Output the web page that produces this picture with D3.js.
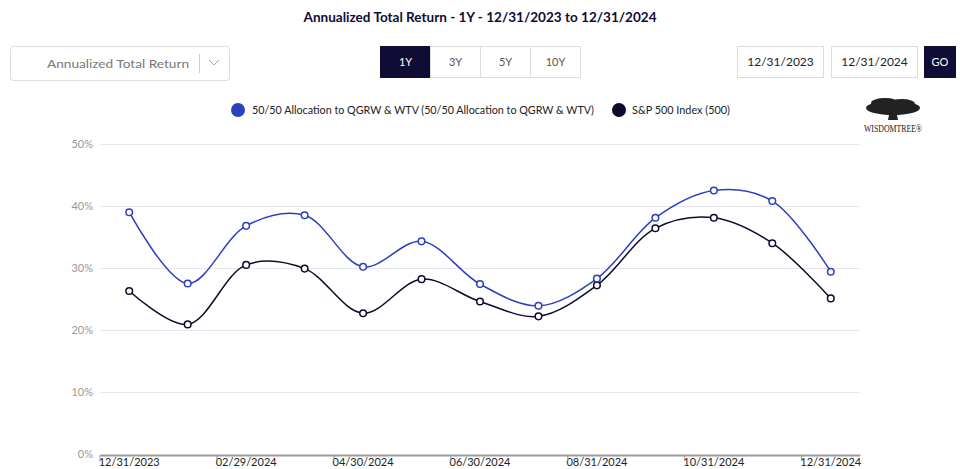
<!DOCTYPE html>
<html><head><meta charset="utf-8">
<script src="https://cdn.jsdelivr.net/npm/d3@7"></script>
<style>
body{margin:0;background:#fff;}
</style></head>
<body><svg id="c" width="960" height="469"></svg>
<script>
const dates = ["12/31/2023","01/31/2024","02/29/2024","03/31/2024","04/30/2024","05/31/2024","06/30/2024","07/31/2024","08/31/2024","09/30/2024","10/31/2024","11/30/2024","12/31/2024"];
const blendValues = [39.0,27.5,36.8,38.5,30.2,34.3,27.4,23.9,28.3,38.1,42.5,40.8,29.4];
const spValues = [26.3,20.9,30.5,29.9,22.7,28.2,24.6,22.2,27.2,36.4,38.1,34.0,25.1];
const yTicks = [0,10,20,30,40,50];
const seriesNames = ["50/50 Allocation to QGRW & WTV (50/50 Allocation to QGRW & WTV)","S&P 500 Index (500)"];
const colors = ["#2b3fbf","#0d0b2b"];
const navy = "#0f0c35";

const svg = d3.select('#c');
const font = '"Lato","Open Sans",sans-serif';

svg.append('text').attr('x',480).attr('y',22).attr('text-anchor','middle')
  .style('font-family',font).style('font-weight','bold').style('font-size','13px').attr('fill',navy)
  .attr('textLength',353).attr('lengthAdjust','spacingAndGlyphs')
  .text('Annualized Total Return - 1Y - 12/31/2023 to 12/31/2024');

// dropdown
svg.append('rect').attr('x',10.5).attr('y',46.5).attr('width',219).attr('height',34).attr('rx',3)
  .attr('fill','#fff').attr('stroke','#dcdcdc');
svg.append('text').attr('x',118).attr('y',68).attr('text-anchor','middle').style('font-family',font)
  .style('font-size','12px').attr('fill','#777').attr('textLength',142).attr('lengthAdjust','spacingAndGlyphs')
  .text('Annualized Total Return');
svg.append('line').attr('x1',199.5).attr('x2',199.5).attr('y1',54).attr('y2',73).attr('stroke','#ccc');
svg.append('path').attr('d','M209,60 L214,65 L219,60').attr('fill','none').attr('stroke','#aaa');

// period buttons
["1Y","3Y","5Y","10Y"].forEach((t,i)=>{
  const x=380.5+i*50;
  svg.append('rect').attr('x',x).attr('y',46.5).attr('width',50).attr('height',31)
    .attr('fill',i==0?navy:'#fff').attr('stroke',i==0?navy:'#dcdcdc');
  svg.append('text').attr('x',x+25).attr('y',66).attr('text-anchor','middle').style('font-family',font)
    .style('font-size','11px').attr('fill',i==0?'#fff':'#555').text(t);
});
[["12/31/2023",737.5,86],["12/31/2024",831.5,86]].forEach(d=>{
  svg.append('rect').attr('x',d[1]).attr('y',46.5).attr('width',d[2]).attr('height',31)
    .attr('fill','#fff').attr('stroke','#dcdcdc');
  svg.append('text').attr('x',d[1]+d[2]/2).attr('y',66).attr('text-anchor','middle').style('font-family',font)
    .style('font-size','12px').attr('fill','#222').text(d[0]);
});
svg.append('rect').attr('x',924).attr('y',46).attr('width',32).attr('height',32).attr('fill',navy);
svg.append('text').attr('x',940).attr('y',66).attr('text-anchor','middle').style('font-family',font)
  .style('font-size','11px').attr('fill','#fff').text('GO');

// legend
svg.append('circle').attr('cx',238).attr('cy',110).attr('r',7).attr('fill',colors[0]);
svg.append('text').attr('x',252).attr('y',114).style('font-family',font).style('font-size','11.5px')
  .attr('fill','#222').attr('textLength',342).attr('lengthAdjust','spacingAndGlyphs').text(seriesNames[0]);
svg.append('circle').attr('cx',619).attr('cy',110).attr('r',7).attr('fill',colors[1]);
svg.append('text').attr('x',632).attr('y',114).style('font-family',font).style('font-size','11.5px')
  .attr('fill','#222').attr('textLength',98).attr('lengthAdjust','spacingAndGlyphs').text(seriesNames[1]);

// logo
const lg = svg.append('g').attr('fill','#222');
lg.append('ellipse').attr('cx',893).attr('cy',108).attr('rx',27).attr('ry',7);
lg.append('ellipse').attr('cx',885).attr('cy',103).attr('rx',14).attr('ry',5);
lg.append('ellipse').attr('cx',902).attr('cy',104).attr('rx',13).attr('ry',5);
lg.append('path').attr('d','M890,110 L896,110 L898,120 L888,120 Z');
lg.append('text').attr('x',893).attr('y',132).attr('text-anchor','middle').style('font-family','"Liberation Serif",serif')
  .style('font-size','11px').attr('textLength',58).attr('lengthAdjust','spacingAndGlyphs').text('WISDOMTREE®');

// chart
const x = d3.scaleBand().domain(dates).range([100,860]);
const y = d3.scaleLinear().domain([0,50]).range([454,144]);

svg.append('g').selectAll('line').data(yTicks.slice(1)).join('line')
  .attr('x1',100).attr('x2',860).attr('y1',d=>Math.round(y(d))+0.5).attr('y2',d=>Math.round(y(d))+0.5)
  .attr('stroke','#e6e6ee');
svg.append('g').selectAll('text').data(yTicks).join('text')
  .attr('x',93).attr('y',d=>y(d)+4).attr('text-anchor','end').style('font-family',font)
  .style('font-size','11px').attr('fill','#999').text(d=>d+'%');

const xa = svg.append('g').attr('transform','translate(0,455)')
  .call(d3.axisBottom(x).tickValues(dates.filter((d,i)=>i%2==0)).tickSize(0).tickPadding(3));
xa.select('.domain').attr('stroke','#999').attr('stroke-width',2);
xa.selectAll('text').style('font-family',font).style('font-size','11px').attr('fill','#222');
svg.append('g').selectAll('line').data(dates.filter((d,i)=>i%2==0)).join('line')
  .attr('x1',d=>x(d)).attr('x2',d=>x(d)).attr('y1',455).attr('y2',461).attr('stroke','#999');

const cx = d => x(d)+x.bandwidth()/2;
const line = d3.line().x((v,i)=>cx(dates[i])).y(v=>y(v)).curve(d3.curveCatmullRom.alpha(0.5));
[spValues, blendValues].forEach((vals,k)=>{
  const col = k==0?colors[1]:colors[0];
  svg.append('path').attr('d',line(vals)).attr('fill','none').attr('stroke',col).attr('stroke-width',1.5);
  svg.append('g').selectAll('circle').data(vals).join('circle')
    .attr('cx',(v,i)=>cx(dates[i])).attr('cy',v=>y(v)).attr('r',3.3)
    .attr('fill','#fff').attr('stroke',col).attr('stroke-width',1.5);
});
</script></body></html>
